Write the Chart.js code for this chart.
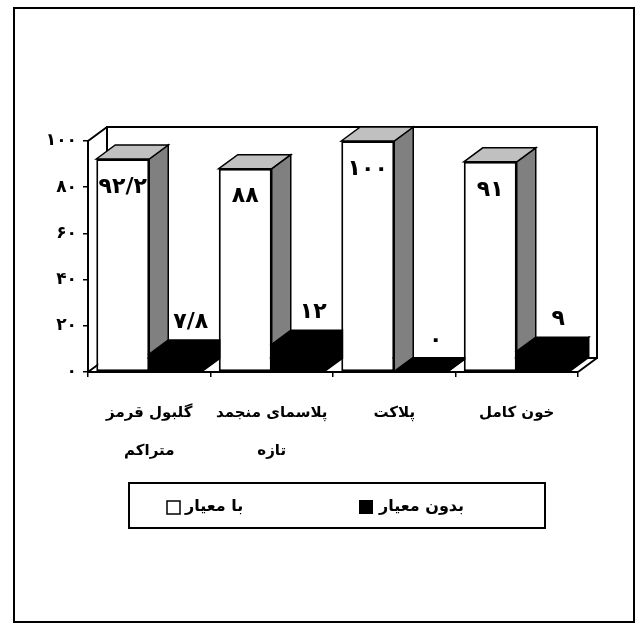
<!DOCTYPE html>
<html><head><meta charset="utf-8">
<script src="https://cdn.jsdelivr.net/npm/chart.js@4/dist/chart.umd.min.js"></script>
<style>html,body{margin:0;padding:0;background:#fff;}#wrap{width:635px;height:623px;position:relative;}</style>
</head><body><div id="wrap"><canvas id="c" width="635" height="623"></canvas></div>
<script>
const categories = [['گلبول قرمز', 'متراکم'], ['پلاسمای منجمد', 'تازه'], ['پلاکت'], ['خون کامل']];
const seriesNames = ['با معیار', 'بدون معیار'];
const withCriteria = [92.2, 88, 100, 91];
const withoutCriteria = [7.8, 12, 0, 9];
const yTickValues = [0, 20, 40, 60, 80, 100];

const FONT = "'DejaVu Sans', sans-serif";
const DX = 19, DY = -14;
function toFa(v) { return String(v).replace('.', '/').replace(/[0-9]/g, d => '۰۱۲۳۴۵۶۷۸۹'[d]); }

const depthPlugin = {
  id: 'depth',
  beforeDraw(chart) {
    const ctx = chart.ctx;
    ctx.save(); ctx.fillStyle = '#fff'; ctx.fillRect(0, 0, chart.width, chart.height); ctx.restore();
  },
  beforeDatasetsDraw(chart) {
    const { ctx, chartArea: a } = chart;
    ctx.save();
    ctx.strokeStyle = '#000'; ctx.lineWidth = 2; ctx.lineJoin = 'miter';
    ctx.beginPath();
    ctx.moveTo(a.left + DX, a.bottom + DY); ctx.lineTo(a.left + DX, a.top + DY);
    ctx.lineTo(a.right + DX, a.top + DY); ctx.lineTo(a.right + DX, a.bottom + DY);
    ctx.lineTo(a.left + DX, a.bottom + DY);
    ctx.moveTo(a.left, a.top); ctx.lineTo(a.left + DX, a.top + DY);
    ctx.moveTo(a.left, a.bottom); ctx.lineTo(a.left + DX, a.bottom + DY);
    ctx.moveTo(a.right, a.bottom); ctx.lineTo(a.right + DX, a.bottom + DY);
    ctx.stroke();
    ctx.restore();
  },
  beforeDatasetDraw() { return false; },
  afterDatasetsDraw(chart) {
    const ctx = chart.ctx;
    const items = [];
    chart.data.datasets.forEach((ds, di) => {
      chart.getDatasetMeta(di).data.forEach((el, i) => items.push({ el, di, i, v: ds.data[i] }));
    });
    items.sort((p, q) => p.el.x - q.el.x);
    const faces = [{ side: '#808080', top: '#c0c0c0' }, { side: '#000', top: '#000' }];
    items.forEach(({ el, di }) => {
      const { x, y, base, width } = el.getProps(['x', 'y', 'base', 'width'], true);
      const l = x - width / 2, r = x + width / 2;
      el.draw(ctx);
      ctx.save();
      ctx.strokeStyle = '#000'; ctx.lineWidth = 1.5; ctx.lineJoin = 'miter';
      ctx.beginPath();
      ctx.moveTo(r, y); ctx.lineTo(r + DX, y + DY); ctx.lineTo(r + DX, base + DY); ctx.lineTo(r, base); ctx.closePath();
      ctx.fillStyle = faces[di].side; ctx.fill(); ctx.stroke();
      ctx.beginPath();
      ctx.moveTo(l, y); ctx.lineTo(l + DX, y + DY); ctx.lineTo(r + DX, y + DY); ctx.lineTo(r, y); ctx.closePath();
      ctx.fillStyle = faces[di].top; ctx.fill(); ctx.stroke();
      ctx.restore();
    });
    ctx.save();
    ctx.fillStyle = '#000'; ctx.font = 'bold 22px ' + FONT;
    ctx.textAlign = 'center'; ctx.textBaseline = 'middle';
    items.forEach(({ el, di, v }) => {
      const { x, y } = el.getProps(['x', 'y'], true);
      if (di === 0) ctx.fillText(toFa(v), x, y + 28);
      else ctx.fillText(toFa(v), x + 15, y - 32);
    });
    ctx.restore();
  },
  afterDraw(chart) {
    const ctx = chart.ctx;
    ctx.save();
    ctx.strokeStyle = '#000';
    ctx.lineWidth = 2;
    ctx.strokeRect(14, 8, 620, 614);
    ctx.strokeRect(129, 483, 416, 45);
    ctx.lineWidth = 1.5;
    ctx.fillStyle = '#fff';
    ctx.fillRect(167, 501, 13, 13); ctx.strokeRect(167, 501, 13, 13);
    ctx.fillStyle = '#000';
    ctx.fillRect(359, 500, 14, 14);
    ctx.font = 'bold 16px ' + FONT;
    ctx.textBaseline = 'middle';
    ctx.direction = 'rtl';
    ctx.textAlign = 'left';
    ctx.fillText(seriesNames[0], 185, 507);
    ctx.fillText(seriesNames[1], 379, 507);
    ctx.restore();
  }
};

new Chart(document.getElementById('c'), {
  type: 'bar',
  data: {
    labels: categories,
    datasets: [
      { label: seriesNames[0], data: withCriteria, backgroundColor: '#fff', borderColor: '#000', borderWidth: 2, borderSkipped: false },
      { label: seriesNames[1], data: withoutCriteria, backgroundColor: '#000', borderColor: '#000', borderWidth: 0, borderSkipped: false }
    ]
  },
  options: {
    responsive: false,
    animation: false,
    events: [],
    layout: { padding: { top: 141, right: 57, left: 0, bottom: 0 } },
    datasets: { bar: { categoryPercentage: 0.865, barPercentage: 1.0 } },
    plugins: { legend: { display: false }, tooltip: { enabled: false } },
    scales: {
      x: {
        afterFit(s) { s.height = 251; },
        grid: { drawOnChartArea: false, drawTicks: true, tickLength: 5, color: '#000', lineWidth: 1.5, offset: true },
        border: { display: true, color: '#000', width: 2 },
        ticks: { color: '#000', padding: 17, maxRotation: 0, autoSkip: false, font: { family: FONT, size: 15, weight: 'bold', lineHeight: 2.55 } }
      },
      y: {
        min: 0, max: 100,
        afterFit(s) { s.width = 88; },
        afterBuildTicks(s) { s.ticks = yTickValues.map(v => ({ value: v })); },
        grid: { drawOnChartArea: false, drawTicks: true, tickLength: 5, color: '#000', lineWidth: 1.5 },
        border: { display: true, color: '#000', width: 2 },
        ticks: { color: '#000', padding: 6, font: { family: FONT, size: 17, weight: 'bold' }, callback: v => toFa(v) }
      }
    }
  },
  plugins: [depthPlugin]
});
</script></body></html>
